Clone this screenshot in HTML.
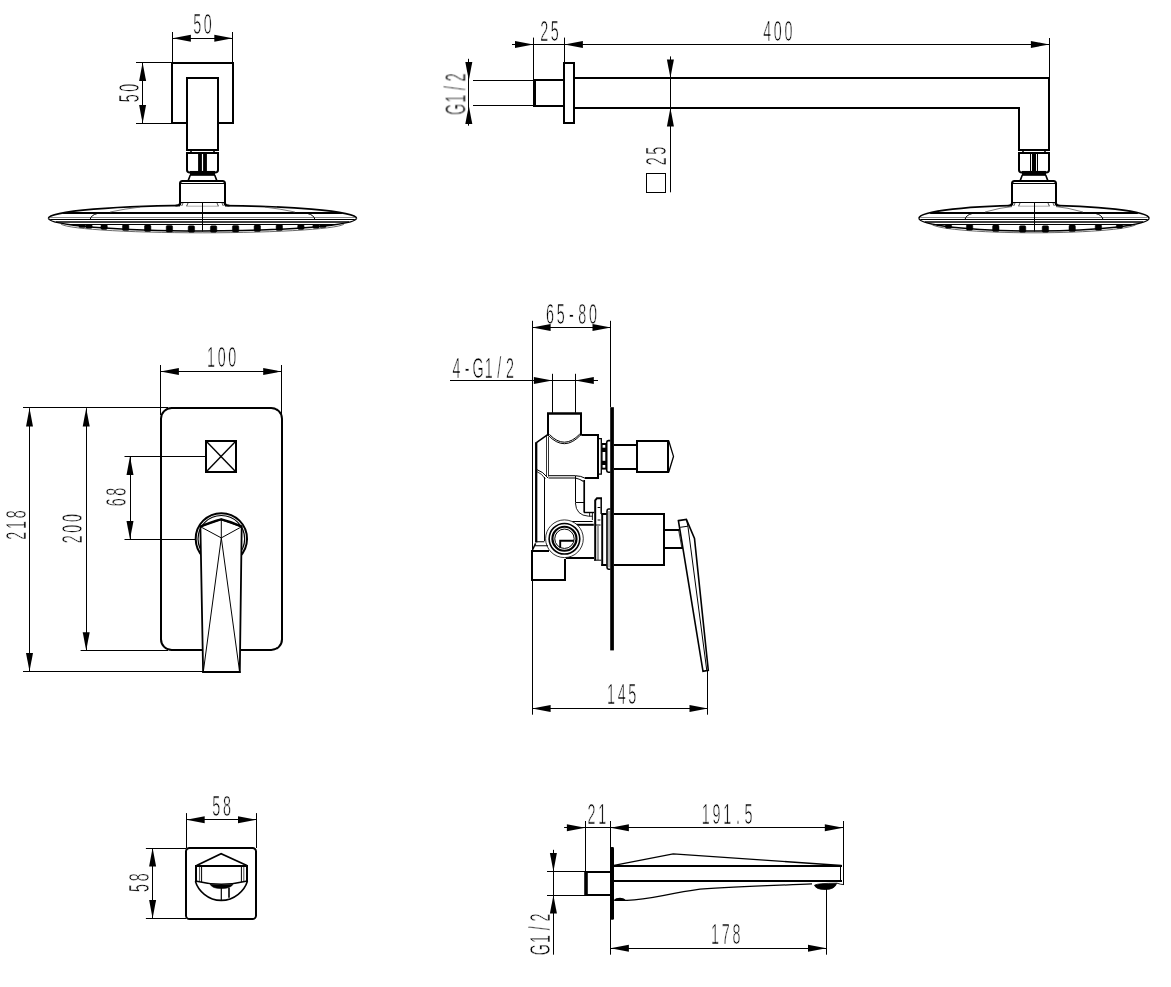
<!DOCTYPE html>
<html><head><meta charset="utf-8"><title>Shower set dimensions</title>
<style>
html,body{margin:0;padding:0;background:#fff;}
body{width:1171px;height:987px;overflow:hidden;}
svg{display:block;}
svg .a{fill:#000;stroke:none;}
svg text{font-family:"Liberation Sans",sans-serif;font-size:28.6px;fill:#000;stroke:#fff;stroke-width:0.7px;stroke-linejoin:round;text-anchor:middle;}
</style></head><body>
<svg width="1171" height="987" viewBox="0 0 1171 987" fill="none" stroke="#000" stroke-linecap="butt" stroke-linejoin="miter">
<g id="labels" opacity="0.999">
<text transform="translate(202.5 34) scale(0.5 1)" x="-10.7 10.7">50</text>
<text transform="translate(138.6 93) rotate(-90) scale(0.5 1)" x="-10.7 10.7">50</text>
<text transform="translate(549.5 41) scale(0.5 1)" x="-10.7 10.7">25</text>
<text transform="translate(777.8 40.5) scale(0.5 1)" x="-21.4 0 21.4">400</text>
<text transform="translate(465.4 93.4) rotate(-90) scale(0.5 1)" x="-32.1 -10.7 10.7 32.1">G1/2</text>
<text transform="translate(666 156) rotate(-90) scale(0.5 1)" x="-10.7 10.7">25</text>
<text transform="translate(221.6 367.2) scale(0.5 1)" x="-21.4 0 21.4">100</text>
<text transform="translate(26.2 525) rotate(-90) scale(0.5 1)" x="-21.4 0 21.4">218</text>
<text transform="translate(81.5 528.7) rotate(-90) scale(0.5 1)" x="-21.4 0 21.4">200</text>
<text transform="translate(125.6 497) rotate(-90) scale(0.5 1)" x="-10.7 10.7">68</text>
<text transform="translate(571.5 324) scale(0.5 1)" x="-42.8 -21.4 0 21.4 42.8">65-80</text>
<text transform="translate(483.3 377.5) scale(0.5 1)" x="-53.5 -32.1 -10.7 10.7 32.1 53.5">4-G1/2</text>
<text transform="translate(621.6 704) scale(0.5 1)" x="-21.4 0 21.4">145</text>
<text transform="translate(221.6 815.7) scale(0.5 1)" x="-10.7 10.7">58</text>
<text transform="translate(149 882.6) rotate(-90) scale(0.5 1)" x="-10.7 10.7">58</text>
<text transform="translate(596.8 823.8) scale(0.5 1)" x="-10.7 10.7">21</text>
<text transform="translate(727.2 824) scale(0.5 1)" x="-42.8 -21.4 0 21.4 42.8">191.5</text>
<text transform="translate(550.1 933.6) rotate(-90) scale(0.5 1)" x="-32.1 -10.7 10.7 32.1">G1/2</text>
<text transform="translate(725.7 943.8) scale(0.5 1)" x="-21.4 0 21.4">178</text>
</g>
<rect x="172" y="63" width="61" height="60" stroke-width="2" fill="none"/>
<rect x="187" y="78" width="31" height="72" stroke-width="2" fill="#fff"/>
<path d="M48.5,218.3 A154,12.9 0 0 1 356.5,218.3" stroke-width="1.7" fill="#fff"/>
<path d="M48.5,218.3 A154,12.6 0 0 0 356.5,218.3" stroke-width="1.5" fill="#fff"/>
<path d="M60.5,223.3 A142,9.5 0 0 0 344.5,223.3" stroke-width="0.8" fill="none" stroke="#444"/>
<line x1="63.1" y1="213" x2="341.9" y2="213" stroke-width="2"/>
<line x1="49.8" y1="217.5" x2="355.2" y2="217.5" stroke-width="1" stroke="#888"/>
<line x1="50.16" y1="219.5" x2="354.84" y2="219.5" stroke-width="1"/>
<line x1="55.87" y1="222" x2="349.13" y2="222" stroke-width="1.6"/>
<line x1="68.14" y1="224.5" x2="336.86" y2="224.5" stroke-width="1"/>
<path d="M90.1,219.5 Q91.1,215 97.1,213.6" stroke-width="1" fill="none"/>
<path d="M110.1,212 Q125.1,208.75 140.1,207.11" stroke-width="0.8" fill="none" stroke="#555"/>
<path d="M314.9,219.5 Q313.9,215 307.9,213.6" stroke-width="1" fill="none"/>
<path d="M294.9,212 Q279.9,208.75 264.9,207.11" stroke-width="0.8" fill="none" stroke="#555"/>
<rect x="79" y="224.6" width="6.4" height="2.97" stroke-width="0.5" fill="#000" rx="1.3"/>
<rect x="319.6" y="224.6" width="6.4" height="2.97" stroke-width="0.5" fill="#000" rx="1.3"/>
<rect x="85.8" y="224.6" width="6.4" height="3.62" stroke-width="0.5" fill="#000" rx="1.3"/>
<rect x="312.8" y="224.6" width="6.4" height="3.62" stroke-width="0.5" fill="#000" rx="1.3"/>
<rect x="100.9" y="224.6" width="6.4" height="4.79" stroke-width="0.5" fill="#000" rx="1.3"/>
<rect x="297.7" y="224.6" width="6.4" height="4.79" stroke-width="0.5" fill="#000" rx="1.3"/>
<rect x="122.5" y="224.6" width="6.4" height="6.02" stroke-width="0.5" fill="#000" rx="1.3"/>
<rect x="276.1" y="224.6" width="6.4" height="6.02" stroke-width="0.5" fill="#000" rx="1.3"/>
<rect x="144.5" y="224.98" width="6.4" height="6.5" stroke-width="0.5" fill="#000" rx="1.3"/>
<rect x="254.1" y="224.98" width="6.4" height="6.5" stroke-width="0.5" fill="#000" rx="1.3"/>
<rect x="166.2" y="225.51" width="6.4" height="6.5" stroke-width="0.5" fill="#000" rx="1.3"/>
<rect x="232.4" y="225.51" width="6.4" height="6.5" stroke-width="0.5" fill="#000" rx="1.3"/>
<rect x="188.2" y="225.77" width="6.4" height="6.5" stroke-width="0.5" fill="#000" rx="1.3"/>
<rect x="210.4" y="225.77" width="6.4" height="6.5" stroke-width="0.5" fill="#000" rx="1.3"/>
<rect x="180" y="200" width="45" height="7.4" fill="#fff" stroke="none"/>
<path d="M180,205 V183.5 Q180,181 182.5,181 H222.5 Q225,181 225,183.5 V205" stroke-width="2" fill="#fff"/>
<line x1="180" y1="183.5" x2="225" y2="183.5" stroke-width="1"/>
<line x1="180" y1="202.5" x2="225" y2="202.5" stroke-width="1"/>
<line x1="186" y1="206.2" x2="219" y2="206.2" stroke-width="0.8" stroke="#999"/>
<line x1="181.2" y1="203" x2="179.9" y2="206" stroke-width="0.7"/>
<line x1="223.8" y1="203" x2="225.1" y2="206" stroke-width="0.7"/>
<line x1="183" y1="203" x2="181.7" y2="206" stroke-width="0.7"/>
<line x1="222" y1="203" x2="223.3" y2="206" stroke-width="0.7"/>
<line x1="188" y1="203" x2="186.7" y2="206" stroke-width="0.7"/>
<line x1="217" y1="203" x2="218.3" y2="206" stroke-width="0.7"/>
<path d="M180,203 Q179.5,205.6 175.5,205.6" stroke-width="1.6" fill="none"/>
<path d="M225,203 Q225.5,205.6 229.5,205.6" stroke-width="1.6" fill="none"/>
<line x1="202.5" y1="203" x2="202.5" y2="231.5" stroke-width="1"/>
<path d="M188.2,180.6 L190.3,175 M214.7,175 L216.8,180.6" stroke-width="1.6" fill="none"/>
<path d="M187,153 H218 V170 Q218,172.4 215,172.6 H190 Q187,172.4 187,170 Z" stroke-width="2" fill="#fff"/>
<rect x="190" y="171" width="25" height="4.8" stroke-width="0.1" fill="#000"/>
<line x1="191" y1="150.8" x2="191" y2="152.4" stroke-width="1.6"/>
<line x1="214" y1="150.8" x2="214" y2="152.4" stroke-width="1.6"/>
<rect x="198.1" y="154" width="3.8" height="17" stroke-width="0.1" fill="#000"/>
<rect x="203.1" y="154" width="3.8" height="17" stroke-width="0.1" fill="#000"/>
<line x1="172.5" y1="32" x2="172.5" y2="62.5" stroke-width="1"/>
<line x1="232.5" y1="32" x2="232.5" y2="62.5" stroke-width="1"/>
<line x1="172.5" y1="38.5" x2="232.7" y2="38.5" stroke-width="1"/>
<polygon class="a" points="172.5,38.3 190.9,34.8 190.9,41.8"/>
<polygon class="a" points="232.7,38.3 214.3,34.8 214.3,41.8"/>
<line x1="142.5" y1="62.5" x2="142.5" y2="123.3" stroke-width="1"/>
<line x1="136" y1="62.5" x2="172" y2="62.5" stroke-width="1"/>
<line x1="136" y1="123.5" x2="172" y2="123.5" stroke-width="1"/>
<polygon class="a" points="142.6,62.5 139.1,80.9 146.1,80.9"/>
<polygon class="a" points="142.6,123.3 139.1,104.9 146.1,104.9"/>
<line x1="512" y1="44.5" x2="1049.3" y2="44.5" stroke-width="1"/>
<polygon class="a" points="533.4,44.4 515,40.9 515,47.9"/>
<polygon class="a" points="564.5,44.4 582.9,40.9 582.9,47.9"/>
<polygon class="a" points="1049.3,44.4 1030.9,40.9 1030.9,47.9"/>
<line x1="533.5" y1="37.6" x2="533.5" y2="80" stroke-width="1"/>
<line x1="564.5" y1="37.6" x2="564.5" y2="62" stroke-width="1"/>
<line x1="1049.5" y1="38" x2="1049.5" y2="77" stroke-width="1"/>
<line x1="468.5" y1="58.8" x2="468.5" y2="125.7" stroke-width="1"/>
<polygon class="a" points="468.8,80.3 465.3,61.9 472.3,61.9"/>
<polygon class="a" points="468.8,105.7 465.3,124.1 472.3,124.1"/>
<line x1="473" y1="80.5" x2="534" y2="80.5" stroke-width="1"/>
<line x1="473" y1="105.5" x2="534" y2="105.5" stroke-width="1"/>
<path d="M564,80 H535 M564,106 H535" stroke-width="2" fill="none"/>
<line x1="534.5" y1="79" x2="534.5" y2="107" stroke-width="3"/>
<rect x="564" y="63" width="10" height="60" stroke-width="2" fill="none"/>
<path d="M574,78 H1049 V150 H1019 V108 H574" stroke-width="2" fill="none"/>
<line x1="670.5" y1="56.4" x2="670.5" y2="192.3" stroke-width="1"/>
<polygon class="a" points="670.4,77.8 666.9,59.4 673.9,59.4"/>
<polygon class="a" points="670.4,108.1 666.9,126.5 673.9,126.5"/>
<rect x="646.5" y="173.5" width="19" height="19" stroke-width="1" fill="none"/>
<path d="M919,218.3 A115,12.9 0 0 1 1149,218.3" stroke-width="1.7" fill="#fff"/>
<path d="M919,218.3 A115,12.6 0 0 0 1149,218.3" stroke-width="1.5" fill="#fff"/>
<path d="M931,223.3 A103,9.5 0 0 0 1137,223.3" stroke-width="0.8" fill="none" stroke="#444"/>
<line x1="930.15" y1="213" x2="1137.85" y2="213" stroke-width="2"/>
<line x1="920.22" y1="217.5" x2="1147.78" y2="217.5" stroke-width="1" stroke="#888"/>
<line x1="920.49" y1="219.5" x2="1147.51" y2="219.5" stroke-width="1"/>
<line x1="924.76" y1="222" x2="1143.24" y2="222" stroke-width="1.6"/>
<line x1="933.92" y1="224.5" x2="1134.08" y2="224.5" stroke-width="1"/>
<path d="M965,219.5 Q966,215 972,213.6" stroke-width="1" fill="none"/>
<path d="M985,212 Q1000,207.58 1015,206.18" stroke-width="0.8" fill="none" stroke="#555"/>
<path d="M1103,219.5 Q1102,215 1096,213.6" stroke-width="1" fill="none"/>
<path d="M1083,212 Q1068,207.58 1053,206.18" stroke-width="0.8" fill="none" stroke="#555"/>
<rect x="945.3" y="224.6" width="6.4" height="3.53" stroke-width="0.5" fill="#000" rx="1.3"/>
<rect x="1116.3" y="224.6" width="6.4" height="3.53" stroke-width="0.5" fill="#000" rx="1.3"/>
<rect x="966.4" y="224.6" width="6.4" height="5.54" stroke-width="0.5" fill="#000" rx="1.3"/>
<rect x="1095.2" y="224.6" width="6.4" height="5.54" stroke-width="0.5" fill="#000" rx="1.3"/>
<rect x="992.6" y="225.08" width="6.4" height="6.5" stroke-width="0.5" fill="#000" rx="1.3"/>
<rect x="1069" y="225.08" width="6.4" height="6.5" stroke-width="0.5" fill="#000" rx="1.3"/>
<rect x="1019.4" y="225.74" width="6.4" height="6.5" stroke-width="0.5" fill="#000" rx="1.3"/>
<rect x="1042.2" y="225.74" width="6.4" height="6.5" stroke-width="0.5" fill="#000" rx="1.3"/>
<rect x="1012" y="200" width="44" height="7.4" fill="#fff" stroke="none"/>
<path d="M1012,205 V183.5 Q1012,181 1014.5,181 H1053.5 Q1056,181 1056,183.5 V205" stroke-width="2" fill="#fff"/>
<line x1="1012" y1="183.5" x2="1056" y2="183.5" stroke-width="1"/>
<line x1="1012" y1="202.5" x2="1056" y2="202.5" stroke-width="1"/>
<line x1="1018" y1="206.2" x2="1050" y2="206.2" stroke-width="0.8" stroke="#999"/>
<line x1="1013.2" y1="203" x2="1011.9" y2="206" stroke-width="0.7"/>
<line x1="1054.8" y1="203" x2="1056.1" y2="206" stroke-width="0.7"/>
<line x1="1015" y1="203" x2="1013.7" y2="206" stroke-width="0.7"/>
<line x1="1053" y1="203" x2="1054.3" y2="206" stroke-width="0.7"/>
<line x1="1020" y1="203" x2="1018.7" y2="206" stroke-width="0.7"/>
<line x1="1048" y1="203" x2="1049.3" y2="206" stroke-width="0.7"/>
<path d="M1012,203 Q1011.5,205.6 1007.5,205.75" stroke-width="1.6" fill="none"/>
<path d="M1056,203 Q1056.5,205.6 1060.5,205.75" stroke-width="1.6" fill="none"/>
<line x1="1034.5" y1="203" x2="1034.5" y2="231.5" stroke-width="1"/>
<path d="M1020.2,180.6 L1022.3,175 M1045.7,175 L1047.8,180.6" stroke-width="1.6" fill="none"/>
<path d="M1019,153 H1049 V170 Q1049,172.4 1046,172.6 H1022 Q1019,172.4 1019,170 Z" stroke-width="2" fill="#fff"/>
<rect x="1022" y="171" width="24" height="4.8" stroke-width="0.1" fill="#000"/>
<line x1="1023" y1="150.8" x2="1023" y2="152.4" stroke-width="1.6"/>
<line x1="1045" y1="150.8" x2="1045" y2="152.4" stroke-width="1.6"/>
<rect x="1032" y="154" width="4" height="17" stroke-width="0.1" fill="#000"/>
<line x1="1030.5" y1="154" x2="1030.5" y2="171" stroke-width="1"/>
<line x1="1037.5" y1="154" x2="1037.5" y2="171" stroke-width="1"/>
<line x1="160.5" y1="371.5" x2="281.6" y2="371.5" stroke-width="1"/>
<polygon class="a" points="160.5,371.5 178.9,368 178.9,375"/>
<polygon class="a" points="281.6,371.5 263.2,368 263.2,375"/>
<line x1="160.5" y1="365" x2="160.5" y2="415" stroke-width="1"/>
<line x1="281.5" y1="365" x2="281.5" y2="415" stroke-width="1"/>
<line x1="29.5" y1="408.2" x2="29.5" y2="671.3" stroke-width="1"/>
<polygon class="a" points="29.5,408.2 26,426.6 33,426.6"/>
<polygon class="a" points="29.5,671.3 26,652.9 33,652.9"/>
<line x1="23" y1="407.5" x2="168" y2="407.5" stroke-width="1"/>
<line x1="23" y1="671.5" x2="204" y2="671.5" stroke-width="1"/>
<line x1="86.5" y1="408.2" x2="86.5" y2="650.6" stroke-width="1"/>
<polygon class="a" points="86.2,408.2 82.7,426.6 89.7,426.6"/>
<polygon class="a" points="86.2,650.6 82.7,632.2 89.7,632.2"/>
<line x1="80.6" y1="650.5" x2="168" y2="650.5" stroke-width="1"/>
<line x1="130.5" y1="456.5" x2="130.5" y2="539.3" stroke-width="1"/>
<polygon class="a" points="130,456.5 126.5,474.9 133.5,474.9"/>
<polygon class="a" points="130,539.3 126.5,520.9 133.5,520.9"/>
<line x1="124.5" y1="456.5" x2="205.5" y2="456.5" stroke-width="1"/>
<line x1="124.5" y1="539.5" x2="195" y2="539.5" stroke-width="1"/>
<rect x="161" y="408" width="121" height="242" stroke-width="2" fill="none" rx="10.8"/>
<rect x="206" y="441" width="30" height="31" stroke-width="2" fill="none"/>
<line x1="206" y1="441" x2="236" y2="472" stroke-width="1.4"/>
<line x1="236" y1="441" x2="206" y2="472" stroke-width="1.4"/>
<circle cx="221.35" cy="538.8" r="25.65" stroke-width="2" fill="none"/>
<circle cx="221.35" cy="538.8" r="23.3" stroke-width="1.2" fill="none"/>
<path d="M200.4,526.6 L221.3,519.5 L241.7,526.6 L239.8,672 H203.1 Z" stroke-width="1.8" fill="#fff"/>
<path d="M200.4,526.6 Q212,521.4 221.3,519.3 Q231,521.4 241.7,526.6" stroke-width="2.2" fill="none"/>
<path d="M200.6,526.8 L221.3,537.9 L241.5,526.8 M221.3,519.8 V537.9 M203.4,671 L221.3,537.9 L239.5,671" stroke-width="1" fill="none"/>
<line x1="202.4" y1="672" x2="240.5" y2="672" stroke-width="2"/>
<line x1="532.5" y1="320.8" x2="532.5" y2="714.7" stroke-width="1"/>
<line x1="610.5" y1="320.8" x2="610.5" y2="407" stroke-width="1"/>
<line x1="532.6" y1="327.5" x2="610.8" y2="327.5" stroke-width="1"/>
<polygon class="a" points="532.2,327.5 550.6,324 550.6,331"/>
<polygon class="a" points="610.9,327.5 592.5,324 592.5,331"/>
<line x1="450" y1="380.5" x2="598" y2="380.5" stroke-width="1"/>
<polygon class="a" points="552.3,380.5 533.9,377 533.9,384"/>
<polygon class="a" points="575.4,380.5 593.8,377 593.8,384"/>
<line x1="552.5" y1="373.8" x2="552.5" y2="412.8" stroke-width="1"/>
<line x1="575.5" y1="373.8" x2="575.5" y2="412.8" stroke-width="1"/>
<line x1="532.4" y1="708.5" x2="707.6" y2="708.5" stroke-width="1"/>
<polygon class="a" points="532.2,708.5 550.6,705 550.6,712"/>
<polygon class="a" points="707.9,708.5 689.5,705 689.5,712"/>
<line x1="707.5" y1="671" x2="707.5" y2="714.7" stroke-width="1"/>
<path d="M548,435.5 V413.6 M581,413.6 V435.5" stroke-width="2" fill="none"/>
<path d="M547,413.6 H582" stroke-width="2.5" fill="none"/>
<path d="M547.7,434.6 L536.4,442.6" stroke-width="1.6" fill="none"/>
<path d="M536.2,442.2 V542.5" stroke-width="2.3" fill="none"/>
<path d="M581.6,435 H598 V478 H585" stroke-width="2" fill="none"/>
<path d="M548,435 Q564.4,452.6 581,434.6" stroke-width="1" fill="none"/>
<path d="M549.4,434.4 Q564.4,450.2 579.8,434" stroke-width="1" fill="none"/>
<path d="M546.5,436 V476.5 M548.5,436.5 V476.5" stroke-width="0.8" fill="none"/>
<path d="M548.5,475.7 H575.4 Q581,475.8 585.5,478.4" stroke-width="1" fill="none"/>
<path d="M548.5,478 H575.4 Q580,479 583.6,481.5" stroke-width="1.1" fill="none"/>
<path d="M536.9,469.6 Q543,471.6 548,478" stroke-width="1" fill="none"/>
<path d="M536.9,471.6 Q542,473.6 545.4,479" stroke-width="0.8" fill="none"/>
<line x1="544.5" y1="477" x2="544.5" y2="541" stroke-width="1"/>
<line x1="575.5" y1="476" x2="575.5" y2="502.5" stroke-width="1"/>
<line x1="575.5" y1="502.5" x2="584" y2="502.5" stroke-width="1"/>
<path d="M584.2,480 V512.6" stroke-width="1.7" fill="none"/>
<path d="M584,512.5 H594" stroke-width="1.4" fill="none"/>
<path d="M575.4,503 Q576,515.4 588.5,516.2 H592.6" stroke-width="0.9" fill="none"/>
<path d="M589.6,513 V516.3 M592.4,513 V520" stroke-width="0.9" fill="none"/>
<path d="M598,438.7 H601.3 V474.1 H598" stroke-width="1.3" fill="none"/>
<rect x="601.9" y="443" width="4.1" height="26.6" fill="#000" stroke="none"/>
<rect x="602.6" y="445" width="2.7" height="2.7" fill="#fff" stroke="none"/>
<rect x="602.6" y="452" width="2.7" height="8.8" fill="#fff" stroke="none"/>
<rect x="602.6" y="465" width="2.7" height="2.7" fill="#fff" stroke="none"/>
<path d="M610.4,440.6 H608.4 Q606.7,440.8 606.7,442.6 V470.2 Q606.7,472 608.4,472.2 H610.4" stroke-width="1.6" fill="#fff"/>
<line x1="571.2" y1="521.5" x2="592.7" y2="521.5" stroke-width="1"/>
<path d="M572,524.8 H593.8" stroke-width="2" fill="none"/>
<path d="M565.8,558 H594" stroke-width="2" fill="none"/>
<circle cx="564.45" cy="538.75" r="18.85" stroke-width="0.8" fill="#fff"/>
<circle cx="564.45" cy="538.75" r="15.3" stroke-width="1.6" fill="none"/>
<circle cx="564.45" cy="538.75" r="12" stroke-width="2.2" fill="none"/>
<circle cx="564.45" cy="538.75" r="9.7" stroke-width="1" fill="none"/>
<path d="M573.8,540.8 H560.2 V547.8" stroke-width="1.9" fill="none"/>
<path d="M531,551 H549 M532,550 V581 M531,580 H566 M565,581 V559" stroke-width="2" fill="none"/>
<path d="M535.6,543.4 L532.6,549.8" stroke-width="1.5" fill="none"/>
<path d="M536.5,541.8 H544.4 M535,545.7 H548" stroke-width="1.1" fill="none"/>
<path d="M594.2,560.2 V500 L596.4,497 H602 V560.2 Z" fill="#fff" stroke="none"/>
<path d="M595.2,560.5 V500.4 L597,498.2 H602" stroke-width="2" fill="none"/>
<path d="M601.2,498 V514" stroke-width="1.5" fill="none"/>
<path d="M597.6,507.5 H600.4 M597.6,520 H600.4 M595,525 H600.6 M594,560.2 H602" stroke-width="1" fill="none"/>
<path d="M598,526 V560" stroke-width="0.8" fill="none"/>
<rect x="601.2" y="513" width="5.4" height="53" fill="#fff" stroke="none"/>
<path d="M601.4,514 H606.6 M601.4,565 H606.6" stroke-width="2" fill="none"/>
<path d="M602.2,513 V566" stroke-width="1.9" fill="none"/>
<path d="M610.4,509 H608.6 Q607,509.2 607,511 V567.2 Q607,569 608.6,569.2 H610.4" stroke-width="1.6" fill="#fff"/>
<path d="M609,511 V567.4" stroke-width="0.6" fill="none"/>
<rect x="610.2" y="407.2" width="3.7" height="243.2" fill="#000" stroke="none"/>
<path d="M614,445 H636 M614,469 H636" stroke-width="2" fill="none"/>
<rect x="637" y="441" width="31" height="31" stroke-width="2" fill="none"/>
<path d="M668.7,440.8 L673.5,456.4 L668.7,472.3" stroke-width="1.3" fill="none"/>
<path d="M614,514 H664 V565 H614" stroke-width="2" fill="none"/>
<path d="M665,530 H679.5 M665,548 H683" stroke-width="2" fill="none"/>
<path d="M678.4,520.6 L686.4,519.5 L694.5,538.5 L708.3,670.4 L703,671.4 Z" stroke-width="1.6" fill="#fff"/>
<path d="M680.2,527.3 L687.9,526.2 L706.8,670.6 M686.4,519.5 L687.9,526.2" stroke-width="1" fill="none"/>
<path d="M678.6,530 L681.8,547.6" stroke-width="0.8" fill="none"/>
<line x1="186.3" y1="819.5" x2="256.4" y2="819.5" stroke-width="1"/>
<polygon class="a" points="186.3,819.7 204.7,816.2 204.7,823.2"/>
<polygon class="a" points="256.4,819.7 238,816.2 238,823.2"/>
<line x1="186.5" y1="813.1" x2="186.5" y2="848" stroke-width="1"/>
<line x1="256.5" y1="813.1" x2="256.5" y2="848" stroke-width="1"/>
<line x1="152.5" y1="848.1" x2="152.5" y2="918.4" stroke-width="1"/>
<polygon class="a" points="152.6,848.1 149.1,866.5 156.1,866.5"/>
<polygon class="a" points="152.6,918.4 149.1,900 156.1,900"/>
<line x1="145.9" y1="848.5" x2="186" y2="848.5" stroke-width="1"/>
<line x1="145.9" y1="918.5" x2="186" y2="918.5" stroke-width="1"/>
<rect x="186" y="848" width="70" height="71" stroke-width="2" fill="none" rx="3.6"/>
<path d="M196.6,865.6 L221.1,853.7 L246.9,865.6" stroke-width="1.7" fill="none"/>
<path d="M196,882 V866 H247 V882" stroke-width="2" fill="none"/>
<path d="M199.6,866 V881.6" stroke-width="0.7" fill="none"/>
<path d="M201.6,866 V882" stroke-width="1" fill="none"/>
<path d="M241.4,866 V882" stroke-width="1" fill="none"/>
<path d="M243.8,866 V881.6" stroke-width="0.7" fill="none"/>
<path d="M195.4,881 Q221.2,887.4 247.4,881" stroke-width="1.6" fill="none"/>
<path d="M195.4,881.2 C198,890.5 208,900.4 221.2,900.4 C234.5,900.4 244.6,890.5 247.4,881.2" stroke-width="1.6" fill="none"/>
<path d="M209.9,884 Q221.4,886.2 233.2,884 Q231,888.6 221.4,888.6 Q212,888.6 209.9,884 Z" stroke-width="0.6" fill="#000"/>
<line x1="221.3" y1="888" x2="221.3" y2="900.2" stroke-width="1.2"/>
<line x1="229" y1="888" x2="229" y2="897.8" stroke-width="1.6"/>
<line x1="564.1" y1="827.5" x2="843.2" y2="827.5" stroke-width="1"/>
<polygon class="a" points="585.3,827.8 566.9,824.3 566.9,831.3"/>
<polygon class="a" points="610.5,827.8 628.9,824.3 628.9,831.3"/>
<polygon class="a" points="843.2,827.8 824.8,824.3 824.8,831.3"/>
<line x1="585.5" y1="821" x2="585.5" y2="872" stroke-width="1"/>
<line x1="610.5" y1="821" x2="610.5" y2="954.7" stroke-width="1"/>
<line x1="843.5" y1="821" x2="843.5" y2="884.8" stroke-width="1"/>
<line x1="553.5" y1="849.8" x2="553.5" y2="954.7" stroke-width="1"/>
<polygon class="a" points="553.4,871.5 549.9,853.1 556.9,853.1"/>
<polygon class="a" points="553.4,895.2 549.9,913.6 556.9,913.6"/>
<line x1="547" y1="871.5" x2="585" y2="871.5" stroke-width="1"/>
<line x1="547" y1="895.5" x2="585" y2="895.5" stroke-width="1"/>
<line x1="610.5" y1="948.5" x2="826.4" y2="948.5" stroke-width="1"/>
<polygon class="a" points="610.5,948.3 628.9,944.8 628.9,951.8"/>
<polygon class="a" points="826.4,948.3 808,944.8 808,951.8"/>
<line x1="826.5" y1="889" x2="826.5" y2="954.7" stroke-width="1"/>
<rect x="610.3" y="847.1" width="3.7" height="72.6" rx="1.3" fill="#000" stroke="none"/>
<path d="M610.5,872 H586 M610.5,895 H586" stroke-width="2" fill="none"/>
<path d="M586,871 V896" stroke-width="3.6" fill="none"/>
<path d="M614,866 H842 M614,881 H842" stroke-width="2" fill="none"/>
<line x1="840.5" y1="866" x2="840.5" y2="881" stroke-width="1"/>
<line x1="843.5" y1="866" x2="843.5" y2="884.8" stroke-width="1"/>
<path d="M614,865.3 L673.2,853.8 L841.5,865.5" stroke-width="1.3" fill="none"/>
<path d="M614.2,900.3 Q616,898.4 620,898.3 Q623.5,898.4 624.5,899.6 L616,899.8 M614.2,900.4 H627 C650,899.6 665,894 700,889.2 C740,886.2 780,885.4 812,883.9" stroke-width="1.2" fill="none"/>
<path d="M814.5,885.2 Q818,883.2 836.7,883.2 Q835,889.5 825,889.5 Q816,889.5 814.5,885.2 Z" stroke-width="0.8" fill="#000"/>
<path d="M836.7,883.1 Q841,884.6 843.9,884.6" stroke-width="0.9" fill="none"/>
</svg>
</body></html>
